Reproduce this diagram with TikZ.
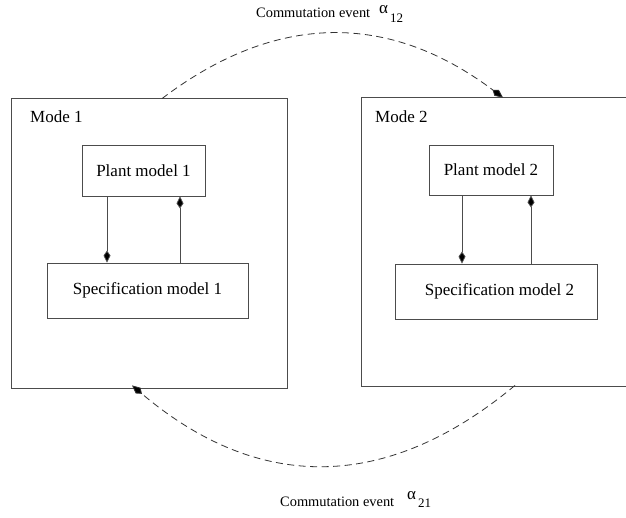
\documentclass[tikz,border=0pt]{standalone}
\usepackage{fontspec}
\setmainfont{Liberation Serif}
\usetikzlibrary{arrows.meta}
\begin{document}
\begin{tikzpicture}[x=1pt,y=-1pt,
  frame/.style={draw=black!70,line width=0.8pt},
  box/.style={frame,rectangle,inner sep=0pt,font=\fontsize{17}{20}\selectfont},
  lbl/.style={inner sep=0pt,anchor=base west,font=\fontsize{17}{20}\selectfont},
  flow/.style={draw=black!70,line width=0.8pt,-{Kite[length=12pt,width=7pt,inset=5pt,fill=black]}},
  event/.style={draw=black!80,line width=0.8pt,dash pattern=on 7pt off 4.5pt,-{Kite[length=13pt,width=7.5pt,inset=5pt,fill=black]}},
  evtext/.style={inner sep=0pt,anchor=base west,font=\fontsize{14.4}{17}\selectfont}]
\useasboundingbox (0,0) rectangle (626,517);
\clip (0,0) rectangle (626,517);
% mode boxes
\node[box,minimum width=276pt,minimum height=290pt] (m1) at (149,243) {};
\node[box,minimum width=279pt,minimum height=289pt] (m2) at (500.5,241.5) {};
\node[lbl] (m1l) at (30,122) {Mode 1};
\node[lbl] (m2l) at (375,122) {Mode 2};
% inner boxes
\node[box,minimum width=123pt,minimum height=51pt] (p1) at (143.5,170.5) {Plant model 1};
\node[box,minimum width=201pt,minimum height=55pt] (s1) at (147.5,290.5) {Specification model 1};
\node[box,minimum width=124pt,minimum height=50pt] (p2) at (491,170) {Plant model 2};
\node[box,minimum width=202pt,minimum height=55pt] (s2) at (496,291.5) {\hspace{7pt}Specification model 2};
% internal arrows
\draw[flow] ([xshift=-36.5pt]p1.south) -- ([xshift=-36.5pt]p1.south |- s1.north);
\draw[flow] ([xshift=36.5pt]p1.south |- s1.north) -- ([xshift=36.5pt]p1.south);
\draw[flow] ([xshift=-29pt]p2.south) -- ([xshift=-29pt]p2.south |- s2.north);
\draw[flow] ([xshift=40pt]p2.south |- s2.north) -- ([xshift=40pt]p2.south);
% commutation events
\draw[event] ([xshift=13pt,yshift=-1pt]m1.north) .. controls (276,12) and (389,12) .. ([xshift=2.5pt,yshift=-1pt]m2.north);
\draw[event] ([xshift=14.5pt,yshift=1pt]m2.south) .. controls (387,492) and (259,493) .. ([xshift=-17pt,yshift=3pt]m1.south);
% labels
\node[evtext] (t1) at (256,17) {Commutation event};
\node[inner sep=0pt,anchor=base west,font=\fontsize{17}{20}\selectfont] (a1) at (379,13) {α};
\node[inner sep=0pt,anchor=base west,font=\fontsize{13}{15}\selectfont] (a1s) at (390,22) {12};
\node[evtext] (t2) at (280,506) {Commutation event};
\node[inner sep=0pt,anchor=base west,font=\fontsize{17}{20}\selectfont] (a2) at (407,499) {α};
\node[inner sep=0pt,anchor=base west,font=\fontsize{13}{15}\selectfont] (a2s) at (418,507) {21};
\end{tikzpicture}
\end{document}
